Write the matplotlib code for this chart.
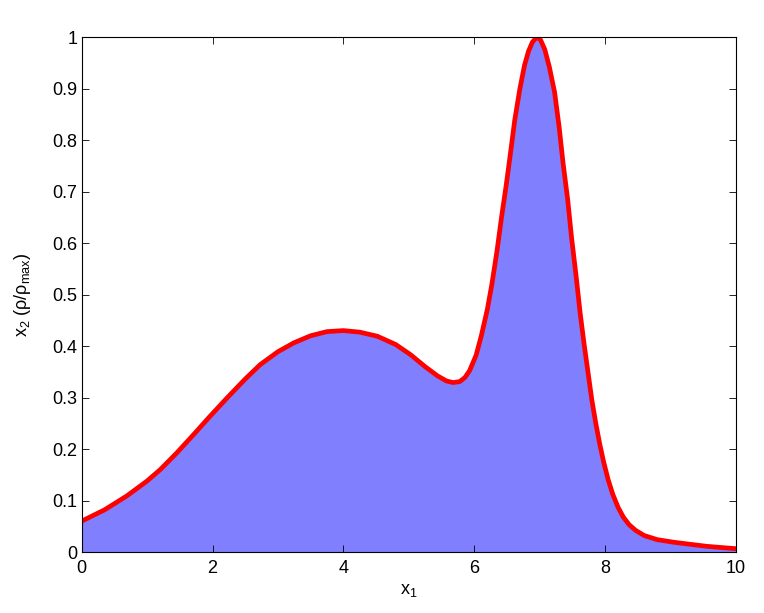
import numpy as np
import matplotlib
matplotlib.use('Agg')
import matplotlib.pyplot as plt

plt.rcParams['font.family'] = ['Liberation Sans', 'DejaVu Sans']
plt.rcParams['mathtext.default'] = 'regular'

# 曲线数据
x1 = [0.0, 0.35, 0.69, 1.0, 1.2, 1.45, 1.71, 1.95, 2.22, 2.5, 2.73, 3.0, 3.24,
      3.5, 3.75, 4.0, 4.25, 4.52, 4.8, 5.03, 5.25, 5.44, 5.58, 5.68, 5.78,
      5.86, 5.93, 6.03, 6.11, 6.2, 6.27, 6.35, 6.42, 6.49, 6.55, 6.62, 6.70,
      6.77, 6.83, 6.89, 6.95, 7.01, 7.08, 7.15, 7.23, 7.30, 7.36, 7.43, 7.49,
      7.56, 7.62, 7.68, 7.74, 7.80, 7.86, 7.92, 7.98, 8.05, 8.12, 8.20, 8.28,
      8.37, 8.47, 8.60, 8.80, 9.05, 9.30, 9.56, 9.80, 10.0]
x2 = [0.060, 0.082, 0.109, 0.138, 0.160, 0.192, 0.228, 0.262, 0.299, 0.336,
      0.364, 0.389, 0.406, 0.420, 0.428, 0.430, 0.427, 0.419, 0.403, 0.383,
      0.360, 0.342, 0.332, 0.329, 0.331, 0.339, 0.352, 0.382, 0.420, 0.470,
      0.519, 0.585, 0.651, 0.712, 0.769, 0.838, 0.900, 0.945, 0.972, 0.990,
      0.999, 0.996, 0.976, 0.942, 0.893, 0.825, 0.755, 0.685, 0.610, 0.535,
      0.465, 0.405, 0.350, 0.295, 0.250, 0.210, 0.175, 0.140, 0.112, 0.087,
      0.068, 0.053, 0.042, 0.032, 0.024, 0.019, 0.015, 0.011, 0.0085, 0.0065]

fig = plt.figure(figsize=(7.64, 6.13), dpi=100)
ax = fig.add_axes([0.107, 0.0995, 0.856, 0.84])

ax.fill_between(x1, x2, 0, color='#8080ff', linewidth=0)
ax.plot(x1, x2, color='red', linewidth=3.4, solid_joinstyle='round')

ax.set_xlim(0, 10)
ax.set_ylim(0, 1)
ax.set_xticks(np.arange(0, 11, 2))
ax.set_yticks(np.arange(0, 1.01, 0.1))
ax.set_yticklabels(['0', '0.1', '0.2', '0.3', '0.4', '0.5', '0.6', '0.7',
                    '0.8', '0.9', '1'])
ax.tick_params(direction='in', top=True, right=True, labelsize=13,
               length=5, width=0.6)
ax.tick_params(axis='x', pad=6)
ax.tick_params(axis='y', pad=3)
for s in ax.spines.values():
    s.set_linewidth(0.8)

ax.set_xlabel('x$_1$', fontsize=13, labelpad=3)
ax.set_ylabel('x$_2$ (ρ/ρ$_{max}$)', fontsize=13, labelpad=14)

plt.savefig('out.png', dpi=100)
